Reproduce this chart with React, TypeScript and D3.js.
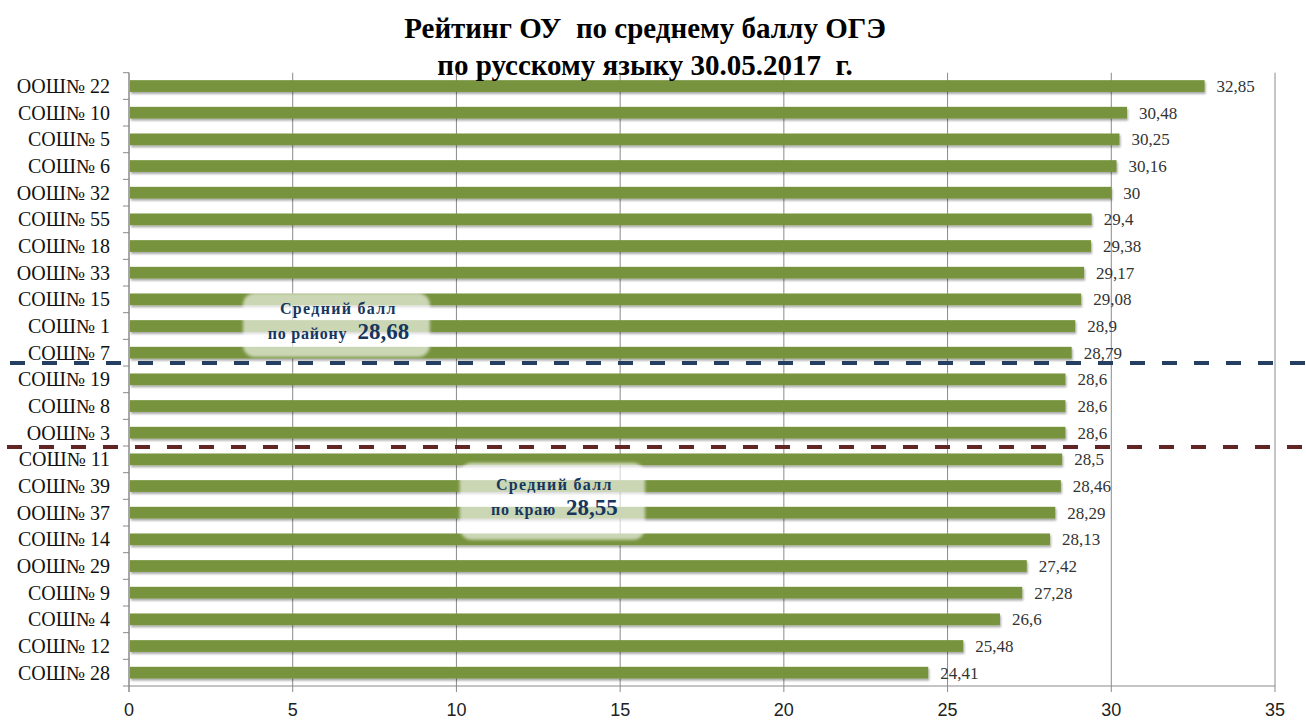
import { useEffect, useRef } from 'react';
import * as d3 from 'd3';

const schools = [
  'ООШ№ 22', 'СОШ№ 10', 'СОШ№ 5', 'СОШ№ 6', 'ООШ№ 32', 'СОШ№ 55', 'СОШ№ 18', 'ООШ№ 33',
  'СОШ№ 15', 'СОШ№ 1', 'СОШ№ 7', 'СОШ№ 19', 'СОШ№ 8', 'ООШ№ 3', 'СОШ№ 11', 'СОШ№ 39',
  'ООШ№ 37', 'СОШ№ 14', 'ООШ№ 29', 'СОШ№ 9', 'СОШ№ 4', 'СОШ№ 12', 'СОШ№ 28',
];
const scores = [
  32.85, 30.48, 30.25, 30.16, 30, 29.4, 29.38, 29.17, 29.08, 28.9, 28.79, 28.6, 28.6, 28.6,
  28.5, 28.46, 28.29, 28.13, 27.42, 27.28, 26.6, 25.48, 24.41,
];
const xTicks = [0, 5, 10, 15, 20, 25, 30, 35];
const titleLines = ['Рейтинг ОУ  по среднему баллу ОГЭ', 'по русскому языку 30.05.2017  г.'];

// reference averages: label, value, row boundary after which the line is drawn
const averages = [
  { top: 'Средний балл', sub: 'по району', value: '28,68', after: 11, color: '#243F60', box: [3.48, 9.19, 8.26, 10.66] },
  { top: 'Средний балл', sub: 'по краю', value: '28,55', after: 14, color: '#632523', box: [10.1, 15.76, 14.63, 17.52] },
];

const SERIF = "'Liberation Serif', 'Times New Roman', 'DejaVu Serif', serif";
const SANS = "'Liberation Sans', Arial, sans-serif";

export default function App() {
  const svgRef = useRef<SVGSVGElement>(null);
  const width = 1306;
  const height = 724;

  useEffect(() => {
    if (!svgRef.current) return;
    const svg = d3.select(svgRef.current);
    svg.selectAll('*').remove();

    const left = 129, right = 1275, top = 72.7, bottom = 686;
    const x = d3.scaleLinear().domain([0, 35]).range([left, right]);
    const y = d3.scaleBand<string>().domain(schools).range([top, bottom])
      .paddingInner(0.56).paddingOuter(0.28);
    const step = y.step();
    const rowEdge = (i: number) => top + i * step;
    const rowPos = d3.scaleLinear().domain([0, schools.length]).range([top, bottom]);

    const defs = svg.append('defs');
    const sh = defs.append('filter').attr('id', 'bar-shadow')
      .attr('x', '-5%').attr('y', '-50%').attr('width', '110%').attr('height', '250%');
    sh.append('feDropShadow').attr('dx', 1).attr('dy', 2).attr('stdDeviation', 1.2)
      .attr('flood-color', '#000').attr('flood-opacity', 0.35);
    const blur = defs.append('filter').attr('id', 'box-soft');
    blur.append('feGaussianBlur').attr('stdDeviation', 1.5);

    // Gridlines
    xTicks.forEach(t => {
      svg.append('line').attr('x1', x(t)).attr('x2', x(t)).attr('y1', top).attr('y2', bottom)
        .attr('stroke', '#8a8a8a').attr('stroke-width', 1);
    });

    // Axes
    svg.append('line').attr('x1', left).attr('x2', right).attr('y1', bottom).attr('y2', bottom)
      .attr('stroke', '#8a8a8a');
    svg.append('line').attr('x1', left).attr('x2', left).attr('y1', top).attr('y2', bottom + 6)
      .attr('stroke', '#8a8a8a');
    for (let i = 0; i <= schools.length; i++) {
      svg.append('line').attr('x1', left - 6).attr('x2', left).attr('y1', rowEdge(i)).attr('y2', rowEdge(i))
        .attr('stroke', '#8a8a8a');
    }
    xTicks.forEach(t => {
      svg.append('line').attr('x1', x(t)).attr('x2', x(t)).attr('y1', bottom).attr('y2', bottom + 6)
        .attr('stroke', '#8a8a8a');
      svg.append('text').attr('x', x(t)).attr('y', 716).attr('text-anchor', 'middle')
        .attr('font-size', '18px').style('font-family', SANS)
        .attr('fill', '#222').text(t);
    });

    // Bars
    schools.forEach((s, i) => {
      const yy = y(s)!;
      svg.append('rect').attr('x', x(0) + 1).attr('y', yy)
        .attr('width', x(scores[i]) - x(0) - 1).attr('height', y.bandwidth())
        .attr('fill', '#77933C').attr('filter', 'url(#bar-shadow)');
      svg.append('text').attr('x', x(scores[i]) + 12).attr('y', yy + y.bandwidth() / 2 + 6)
        .attr('font-size', '17px').style('font-family', SERIF)
        .attr('fill', '#333').text(String(scores[i]).replace('.', ','));
      svg.append('text').attr('x', 110).attr('y', yy + y.bandwidth() / 2 + 7)
        .attr('text-anchor', 'end')
        .attr('font-size', '20px').style('font-family', SERIF)
        .attr('fill', '#111').text(s);
    });

    // Average lines and labels
    averages.forEach((a, k) => {
      const ly = rowEdge(a.after) + (k === 0 ? -3 : 1);
      svg.append('line').attr('x1', k === 0 ? 10 : 7).attr('x2', width).attr('y1', ly).attr('y2', ly)
        .attr('stroke', a.color).attr('stroke-width', 4).attr('stroke-dasharray', '15 17');

      const [x0, x1, r0, r1] = a.box;
      const bx = x(x0), bw = x(x1) - x(x0);
      const by = rowPos(r0), bh = rowPos(r1) - rowPos(r0);
      svg.append('rect').attr('x', bx).attr('y', by).attr('width', bw).attr('height', bh)
        .attr('rx', 12).attr('fill', '#fff').attr('opacity', 0.62).attr('filter', 'url(#box-soft)');
      const cx = bx + bw / 2;
      const cy = by + bh / 2;
      svg.append('text').attr('x', cx + 2).attr('y', cy - 11).attr('text-anchor', 'middle')
        .attr('font-size', '16px').attr('font-weight', 'bold').attr('letter-spacing', '1.3px')
        .style('font-family', SERIF).attr('fill', '#17365D').text(a.top);
      const line2 = svg.append('text').attr('x', cx + 2).attr('y', cy + 14).attr('text-anchor', 'middle')
        .style('font-family', SERIF).attr('font-weight', 'bold').attr('fill', '#17365D');
      line2.append('tspan').attr('font-size', '16px').attr('letter-spacing', '0.8px').text(a.sub);
      line2.append('tspan').attr('dx', 10).attr('font-size', '23px').text(a.value);
    });

    // Title
    titleLines.forEach((t, i) => {
      svg.append('text').attr('x', 645).attr('y', 38 + i * 37).attr('text-anchor', 'middle')
        .attr('font-size', '29px').attr('font-weight', 'bold')
        .style('font-family', SERIF).attr('fill', '#000')
        .style('white-space', 'pre').text(t);
    });
  }, []);

  return (
    <svg ref={svgRef} width={width} height={height}
      style={{ position: 'absolute', left: 0, top: 0, background: '#fff' }} />
  );
}
